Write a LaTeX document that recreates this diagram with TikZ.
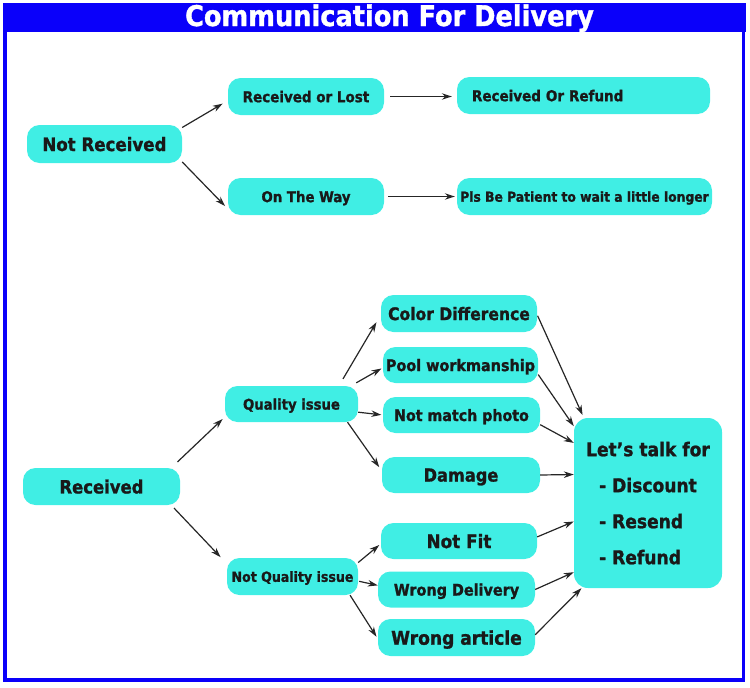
\documentclass[tikz,border=0pt]{standalone}
\usepackage{fontspec}
\setmainfont{DejaVu Sans Condensed}[BoldFeatures={FakeBold=1.2}]
\usepackage{xcolor}
\usetikzlibrary{arrows.meta}
\definecolor{pillcyan}{RGB}{64,238,228}
\definecolor{frameblue}{RGB}{10,0,250}
\newcommand{\setsz}[1]{\fontsize{#1}{#1}\selectfont\bfseries}

\begin{document}
\begin{tikzpicture}[x=1pt,y=-1pt,
	pill/.style={fill=pillcyan,rounded corners=12.5pt,inner sep=0pt,text depth=0pt,align=center,text=black!90},
	arr/.style={-{Stealth[length=10pt,width=6.5pt]},line width=1.2pt,black!85}]
	\useasboundingbox (0,0) rectangle (750,688);
	\fill[frameblue] (3,3) rectangle (745.5,32);
	\draw[frameblue,line width=3.5pt] (4.75,4.75) rectangle (743.5,680);
	\node[white,anchor=base,font=\setsz{28.5}] (title) at (389.5,26) {Communication For Delivery};

	\node[pill,minimum width=155pt,minimum height=38pt,font=\setsz{18.5}] (nr) at (104.5,144) {Not Received};
	\node[pill,minimum width=156pt,minimum height=37pt,font=\setsz{15}] (rl) at (306,96.5) {Received or Lost};
	\node[pill,minimum height=37pt,text width=223pt,inner xsep=15pt,align=left,font=\setsz{15}] (rr) at (583.5,95.5) {Received Or Refund};
	\node[pill,minimum width=156pt,minimum height=37pt,font=\setsz{14.8}] (otw) at (306,196.5) {On The Way};
	\node[pill,minimum width=255pt,minimum height=37pt,font=\setsz{13.7}] (pbp) at (584.5,196.5) {Pls Be Patient to wait a little longer};

	\node[pill,minimum width=157pt,minimum height=37pt,font=\setsz{18.3}] (rc) at (101.5,486.5) {Received};
	\node[pill,minimum width=133pt,minimum height=36pt,font=\setsz{14.7}] (qi) at (291.5,404) {Quality issue};
	\node[pill,minimum width=131pt,minimum height=37pt,font=\setsz{14}] (nqi) at (292.5,576.5) {Not Quality issue};

	\node[pill,minimum width=156pt,minimum height=37pt,font=\setsz{17.3}] (cd) at (459,313.5) {Color Difference};
	\node[pill,minimum width=155pt,minimum height=36pt,font=\setsz{16}] (pw) at (460.5,365) {Pool workmanship};
	\node[pill,minimum width=157pt,minimum height=36pt,font=\setsz{15.8}] (nm) at (461.5,415) {Not match photo};
	\node[pill,minimum width=158pt,minimum height=36pt,font=\setsz{18}] (dm) at (461,475) {Damage};
	\node[pill,minimum width=156pt,minimum height=36pt,font=\setsz{18.7}] (nf) at (459,541) {Not Fit};
	\node[pill,minimum width=157pt,minimum height=36pt,font=\setsz{16}] (wd) at (456.5,589.5) {Wrong Delivery};
	\node[pill,minimum width=157pt,minimum height=37pt,font=\setsz{19}] (wa) at (456.5,637.5) {Wrong article};

	\node[pill,minimum width=148pt,minimum height=170pt,rounded corners=14pt,align=left,font=\bfseries\fontsize{19}{36}\selectfont] (lt) at (648,503)
		{Let’s talk for\\\hspace*{13pt}- Discount\\\hspace*{13pt}- Resend\\\hspace*{13pt}- Refund};

	\draw[arr,shorten >=6pt] (nr.12) -- (rl.183);
	\draw[arr,shorten >=4pt] (nr.-13) -- (otw.189);
	\draw[arr,shorten <=6pt,shorten >=5pt] (rl.east) -- (rl.east -| rr.west);
	\draw[arr,shorten <=4pt,shorten >=2pt] (otw.east) -- (pbp.west);

	\draw[arr,shorten <=8.5pt,shorten >=3pt] (rc.15) -- (qi.191);
	\draw[arr,shorten <=4pt,shorten >=9pt] (rc.-15) -- (nqi.169);

	\draw[arr,shorten <=8pt,shorten >=8.5pt] (qi.21) -- (cd.181);
	\draw[arr,shorten <=6pt,shorten >=1.5pt] (qi.17) -- (pw.182);
	\draw[arr,shorten >=1.5pt] (qi.-7) -- (nm.west);
	\draw[arr,shorten >=4.5pt] (qi.-18) -- (dm.177);
	\draw[arr,shorten >=2pt] (nqi.12) -- (nf.182);
	\draw[arr,shorten <=1pt] (nqi.-4) -- (wd.177);
	\draw[arr,shorten >=2.5pt] (nqi.-18) -- (wa.181);

	\draw[arr,shorten <=1pt,shorten >=3pt] (cd.-1) -- (lt.127);
	\draw[arr] (pw.-7) -- (lt.134);
	\draw[arr] (nm.-7) -- (lt.141);
	\draw[arr] (dm.east) -- (lt.159);
	\draw[arr] (nf.3) -- (lt.194);
	\draw[arr] (wd.east) -- (lt.223);
	\draw[arr] (wa.2) -- (lt.232);
\end{tikzpicture}
\end{document}
